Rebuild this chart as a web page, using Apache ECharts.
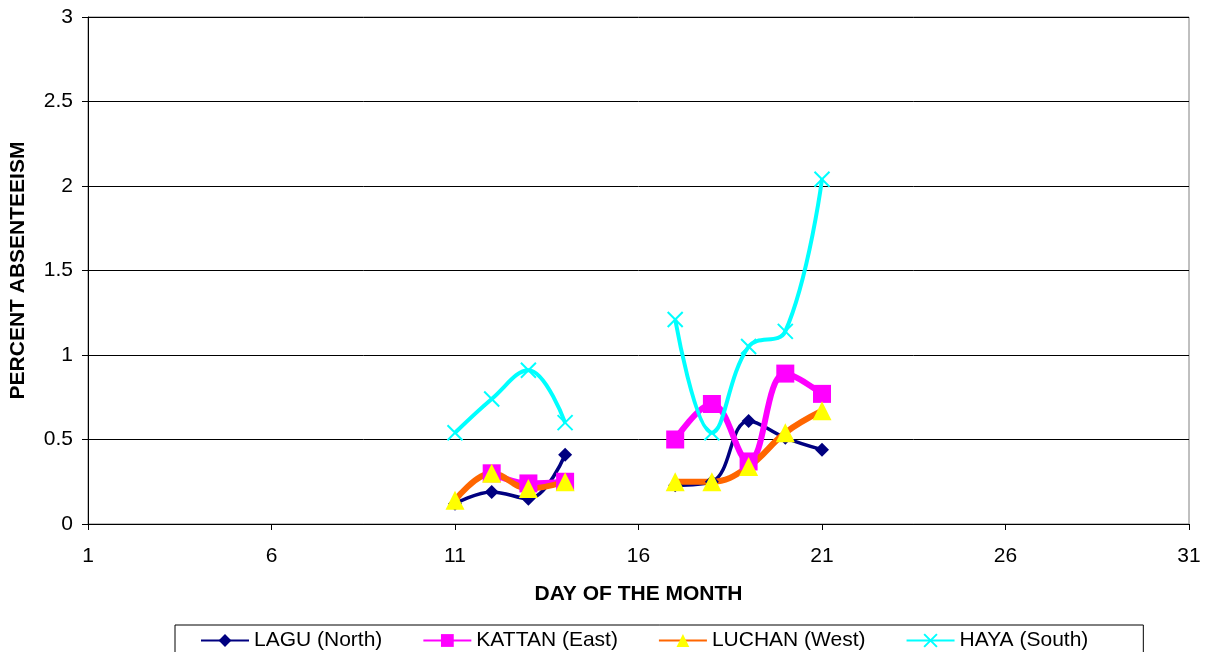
<!DOCTYPE html>
<html>
<head>
<meta charset="utf-8">
<script src="https://cdn.jsdelivr.net/npm/echarts@6/dist/echarts.min.js"></script>
<style>
    html, body { margin: 0; padding: 0; background: #fff; }
</style>
</head>
<body>
<div id="main" style="width: 1210px;height:652px;"></div>
<script type="text/javascript">
    // days of the month (15 and 16 have no data -> gap)
    var days = [11, 12, 13, 14, 15, 16, 17, 18, 19, 20, 21];
    var lagu   = [0.12, 0.19, 0.15, 0.41, null, null, 0.23, 0.25, 0.61, 0.51, 0.44];
    var kattan = [null, 0.30, 0.24, 0.25, null, null, 0.50, 0.71, 0.37, 0.89, 0.77];
    var luchan = [0.14, 0.30, 0.21, 0.25, null, null, 0.25, 0.25, 0.34, 0.54, 0.67];
    var haya   = [0.54, 0.74, 0.91, 0.60, null, null, 1.21, 0.54, 1.05, 1.14, 2.04];
    var seriesNames = ['LAGU (North)', 'KATTAN (East)', 'LUCHAN (West)', 'HAYA (South)'];

    function pairs(vals) {
        return days.map(function (d, i) {
            return [d, vals[i] === null ? '-' : vals[i]];
        });
    }

    var font = 'Liberation Sans, Arial, sans-serif';
    var crossPath = 'path://M0,0L10,10M10,0L0,10';

    var myChart = echarts.init(document.getElementById('main'));

    var option = {
        animation: false,
        textStyle: { fontFamily: font },
        grid: {
            left: 88,
            right: 21,
            top: 17,
            bottom: 128,
            containLabel: false,
            outerBoundsMode: 'none',
            show: true,
            borderColor: '#808080',
            borderWidth: 1
        },
        xAxis: {
            type: 'value',
            min: 1,
            max: 31,
            interval: 5,
            name: 'DAY OF THE MONTH',
            nameLocation: 'middle',
            nameGap: 60,
            nameTextStyle: { fontSize: 21, fontWeight: 'bold', color: '#000' },
            axisLine: { show: true, lineStyle: { color: '#000', width: 1 } },
            axisTick: { show: true, inside: false, length: 6, lineStyle: { color: '#000' } },
            axisLabel: { fontSize: 21, color: '#000', margin: 22 },
            splitLine: { show: false }
        },
        yAxis: {
            type: 'value',
            min: 0,
            max: 3,
            interval: 0.5,
            name: 'PERCENT ABSENTEEISM',
            nameLocation: 'middle',
            nameGap: 59,
            nameTextStyle: { fontSize: 21, fontWeight: 'bold', color: '#000' },
            axisLine: { show: true, lineStyle: { color: '#000', width: 1 } },
            axisTick: { show: true, inside: false, length: 6, lineStyle: { color: '#000' } },
            axisLabel: { fontSize: 21, color: '#000', margin: 15 },
            splitLine: { show: true, lineStyle: { color: '#000', width: 1 } }
        },
        legend: {
            top: 625,
            left: 175,
            itemGap: 40,
            itemWidth: 48,
            itemHeight: 16,
            padding: [5, 55, 12, 25],
            borderColor: '#000',
            borderWidth: 1,
            textStyle: { fontSize: 21, color: '#000', fontFamily: font },
            data: seriesNames
        },
        series: [
            {
                name: seriesNames[0],
                type: 'line',
                smooth: 0.4,
                connectNulls: false,
                data: pairs(lagu),
                symbol: 'diamond',
                symbolSize: 14,
                lineStyle: { color: '#000080', width: 3.5 },
                itemStyle: { color: '#000080' }
            },
            {
                name: seriesNames[1],
                type: 'line',
                smooth: 0.4,
                connectNulls: false,
                data: pairs(kattan),
                symbol: 'rect',
                symbolSize: 18,
                lineStyle: { color: '#ff00ff', width: 6 },
                itemStyle: { color: '#ff00ff' }
            },
            {
                name: seriesNames[2],
                type: 'line',
                smooth: 0.4,
                connectNulls: false,
                data: pairs(luchan),
                symbol: 'triangle',
                symbolSize: 19,
                lineStyle: { color: '#ff6600', width: 6 },
                itemStyle: { color: '#ffff00' }
            },
            {
                name: seriesNames[3],
                type: 'line',
                smooth: 0.4,
                connectNulls: false,
                data: pairs(haya),
                symbol: crossPath,
                symbolSize: 15,
                lineStyle: { color: '#00ffff', width: 4 },
                itemStyle: { color: '#00ffff', borderColor: '#00ffff', borderWidth: 2 }
            }
        ]
    };

    myChart.setOption(option);
</script>
</body>
</html>
